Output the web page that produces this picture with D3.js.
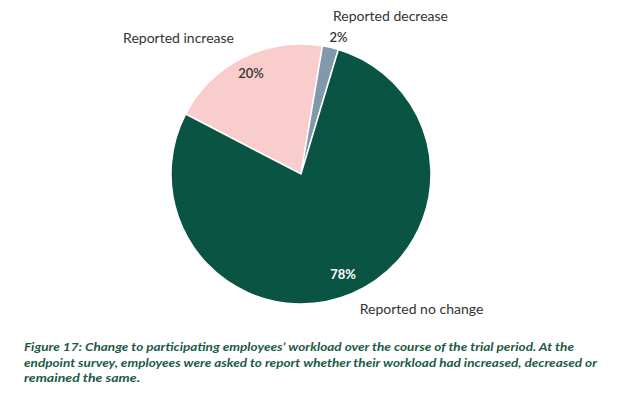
<!DOCTYPE html>
<html>
<head>
<meta charset="utf-8">
<script src="https://d3js.org/d3.v7.min.js"></script>
<style>
  body { margin: 0; background: #fff; }
  svg { display: block; }
</style>
</head>
<body>
<div id="chart"></div>
<script>
// Chart data
const categories = ['Reported increase', 'Reported decrease', 'Reported no change'];
const shares = [20, 2, 78];
const colors = ['#f9cdcc', '#8199aa', '#0a5444'];
const captionLines = [
  'Figure 17: Change to participating employees\u02bc workload over the course of the trial period. At the',
  'endpoint survey, employees were asked to report whether their workload had increased, decreased or',
  'remained the same.'
];

const width = 629, height = 397;
const cx = 301, cy = 174, radius = 130;

const svg = d3.select('#chart').append('svg')
  .attr('width', width)
  .attr('height', height);

const data = categories.map((c, i) => ({ label: c, value: shares[i], color: colors[i] }));

// start so that the increase slice begins upper-left
const pie = d3.pie()
  .value(d => d.value)
  .sort(null)
  .startAngle(-62.5 * Math.PI / 180)
  .endAngle((360 - 62.5) * Math.PI / 180);

const arcs = pie(data);
const arc = d3.arc().innerRadius(0).outerRadius(radius);

const g = svg.append('g').attr('transform', `translate(${cx},${cy})`);

g.selectAll('path')
  .data(arcs)
  .enter()
  .append('path')
  .attr('d', arc)
  .attr('fill', d => d.data.color)
  .attr('stroke', '#fff')
  .attr('stroke-width', 1.5);

// category labels and percentages, placed relative to the centre
const labelFont = 'Lato, "Open Sans", sans-serif';
const pos = [
  { cat: [-122.5, -131], pct: [-50, -96], pctColor: '#333' },
  { cat: [89.5, -153], pct: [37.5, -132], pctColor: '#333' },
  { cat: [120.5, 140], pct: [42, 105], pctColor: '#fff' }
];

arcs.forEach((a, i) => {
  const p = pos[i];
  g.append('text')
    .attr('x', p.cat[0])
    .attr('y', p.cat[1])
    .attr('text-anchor', 'middle')
    .style('font-family', labelFont)
    .style('font-size', '14px')
    .style('fill', '#333')
    .text(a.data.label);
  g.append('text')
    .attr('x', p.pct[0])
    .attr('y', p.pct[1])
    .attr('text-anchor', 'middle')
    .style('font-family', labelFont)
    .style('font-size', '13px')
    .style('font-weight', i === 2 ? 'bold' : '600')
    .style('fill', p.pctColor)
    .text(Math.round(a.data.value) + '%');
});

// caption
const captionWidths = [550, 573, 116];
svg.append('g')
  .selectAll('text')
  .data(captionLines)
  .enter()
  .append('text')
  .attr('x', 24)
  .attr('y', (d, i) => 351 + i * 15.5)
  .attr('textLength', (d, i) => captionWidths[i])
  .attr('lengthAdjust', 'spacingAndGlyphs')
  .style('font-family', labelFont)
  .style('font-size', '12px')
  .style('font-style', 'italic')
  .style('font-weight', 'bold')
  .style('fill', '#1b5a45')
  .text(d => d);
</script>
</body>
</html>
